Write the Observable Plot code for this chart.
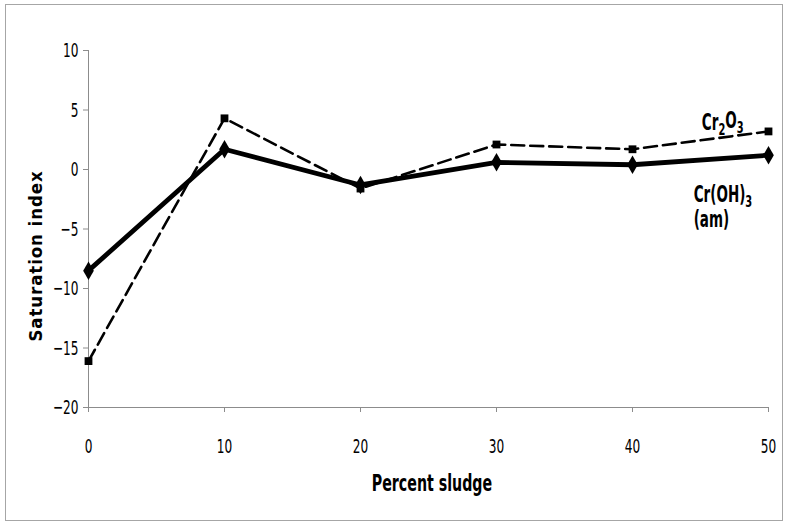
<!DOCTYPE html>
<html><head><meta charset="utf-8">
<script src="https://cdn.jsdelivr.net/npm/d3@7"></script>
<script src="https://cdn.jsdelivr.net/npm/@observablehq/plot@0.6"></script>
<style>
body{margin:0;background:#fff;}
#wrap{position:relative;width:787px;height:526px;}
#border{position:absolute;left:5px;top:4px;width:776px;height:515px;border:1px solid #a6a6a6;pointer-events:none;}
</style>
</head><body>
<div id="wrap"><div id="border"></div></div>
<script>
const percent = [0, 10, 20, 30, 40, 50];
const crOH3 = [-8.5, 1.7, -1.3, 0.6, 0.4, 1.2];
const cr2O3 = [-16.1, 4.3, -1.6, 2.1, 1.7, 3.2];
const xTicks = [0, 10, 20, 30, 40, 50];
const yTicks = [-20, -15, -10, -5, 0, 5, 10];
const labelText = ["Cr2O3", "Cr(OH)3", "(am)"];
const labelX = [45.1, 44.5, 44.5];
const labelY = [3.9, -2.2, -4.2];

const solid = percent.map((x, i) => ({x, y: crOH3[i]}));
const dashed = percent.map((x, i) => ({x, y: cr2O3[i]}));
const labels = labelText.map((t, i) => ({t, x: labelX[i], y: labelY[i]}));

const narrow = "'DejaVu Sans Condensed', 'DejaVu Sans', sans-serif";
const axisColor = "#8c8c8c";

const chart = Plot.plot({
  width: 787, height: 526,
  marginLeft: 88, marginRight: 19, marginTop: 50, marginBottom: 119,
  style: {fontFamily: narrow, fontStretch: "condensed", fontSize: "13px", color: "#000", background: "transparent"},
  x: {domain: [0, 50]},
  y: {domain: [-20, 10]},
  marks: [
    Plot.ruleX([0], {stroke: axisColor}),
    Plot.ruleY([-20], {stroke: axisColor}),
    Plot.axisX({ticks: xTicks, tickSize: 5, stroke: axisColor, tickPadding: 28, label: null, fontSize: 13.5, fill: "#000"}),
    Plot.axisY({ticks: yTicks, tickSize: 5, stroke: axisColor, tickPadding: 5, label: null, fontSize: 13.5, fill: "#000"}),
    Plot.line(dashed, {x: "x", y: "y", stroke: "#000", strokeWidth: 2.6, strokeDasharray: "13,6"}),
    Plot.line(solid, {x: "x", y: "y", stroke: "#000", strokeWidth: 4.8}),
    Plot.dot(dashed, {x: "x", y: "y", symbol: "square", r: 4.4, fill: "#000"}),
    Plot.dot(solid, {x: "x", y: "y", symbol: "diamond", r: 5.6, fill: "#000"}),
    Plot.text(labels, {x: "x", y: "y", text: "t", textAnchor: "start", fontWeight: "bold", fontSize: 15, fontFamily: narrow, fill: "#000"})
  ]
});

document.getElementById("wrap").appendChild(chart);
const svg = d3.select(chart);
// subscripts
svg.selectAll("text").each(function() {
  const el = d3.select(this);
  const s = el.text();
  if (s === "Cr2O3") {
    el.text(null);
    el.append("tspan").text("Cr");
    el.append("tspan").attr("dy", "0.3em").attr("font-size", "11").text("2");
    el.append("tspan").attr("dy", "-0.3em").text("O");
    el.append("tspan").attr("dy", "0.3em").attr("font-size", "11").text("3");
  } else if (s === "Cr(OH)3") {
    el.text(null);
    el.append("tspan").text("Cr(OH)");
    el.append("tspan").attr("dy", "0.3em").attr("font-size", "11").text("3");
  }
});
// x axis title
svg.append("text")
  .attr("x", 432).attr("y", 484)
  .attr("text-anchor", "middle").attr("dominant-baseline", "middle")
  .attr("font-family", narrow).attr("font-stretch", "condensed").attr("font-weight", "bold").attr("font-size", 15.8)
  .attr("fill", "#000").text("Percent sludge");
// vertical stretch of the narrow texts (reference is stretched vertically)
svg.selectAll("text").each(function() {
  const b = this.getBBox();
  const cx = b.x + b.width / 2, cy = b.y + b.height / 2;
  const t = this.getAttribute("transform") || "";
  this.setAttribute("transform", `${t} translate(${cx},${cy}) scale(1,1.5) translate(${-cx},${-cy})`);
});
// y axis title (not stretched)
svg.append("text")
  .attr("transform", "translate(37,256) rotate(-90)")
  .attr("text-anchor", "middle").attr("dominant-baseline", "middle")
  .attr("font-family", "'DejaVu Sans', Verdana, sans-serif").attr("font-weight", "bold").attr("font-size", 18.5)
  .attr("letter-spacing", 0.9)
  .attr("fill", "#000").text("Saturation index");
</script>
</body></html>
